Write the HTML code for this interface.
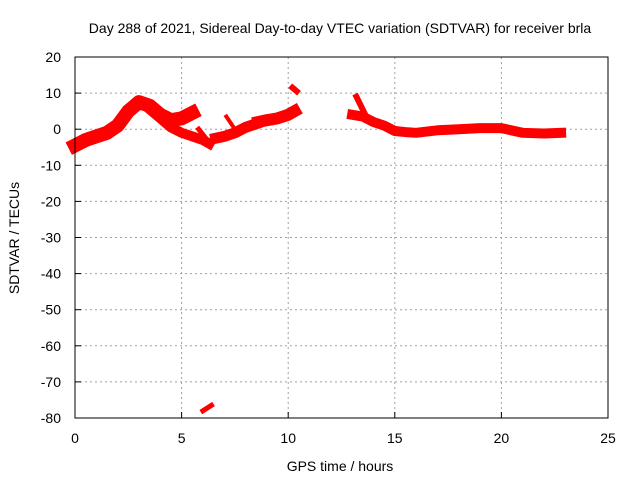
<!DOCTYPE html>
<html><head><meta charset="utf-8"><style>
body{margin:0;background:#fff}
svg text{font-family:"Liberation Sans",sans-serif;font-size:14px;fill:#000}
</style></head><body>
<svg id="chart" width="640" height="480" viewBox="0 0 640 480" xmlns="http://www.w3.org/2000/svg">
<text x="340" y="33" text-anchor="middle">Day 288 of 2021, Sidereal Day-to-day VTEC variation (SDTVAR) for receiver brla</text>
<g id="grid"></g>
<g id="series"></g>
<rect x="75" y="57" width="533" height="361" fill="none" stroke="#000" stroke-width="1"/>
<g id="ticks"></g>
<text x="340" y="471" text-anchor="middle">GPS time / hours</text>
<text transform="translate(19,238) rotate(-90)" text-anchor="middle">SDTVAR / TECUs</text>
</svg>
<script>
const xTicks=[0,5,10,15,20,25];
const yTicks=[20,10,0,-10,-20,-30,-40,-50,-60,-70,-80];
const segMainUpper=[[0,-4.5],[0.5,-3],[1,-2],[1.5,-1],[2,1],[2.5,5],[3,7.5],[3.5,6.5],[4,4],[4.5,2.5],[5,3],[5.5,4.5]];
const segMainLower=[[3.4,6],[4,3],[4.5,0.5],[5,-1],[5.5,-2],[6,-3],[6.3,-4]];
const segSpike1=[[5.8,0],[6.2,-3]];
const segMid=[[6.6,-2.5],[7,-2],[7.5,-1],[8,0.5],[8.5,1.5]];
const segSpike2=[[7.1,3.5],[7.5,0]];
const segLate=[[8.6,2],[9,2.5],[9.5,3],[10,4],[10.3,5]];
const segBlob=[[10.2,11.5],[10.4,10.5]];
const segOutlier=[[6,-78],[6.4,-76.5]];
const segRight=[[13,4],[13.5,3.5],[14,2],[14.5,1],[15,-0.5],[15.5,-0.8],[16,-1],[17,-0.3],[18,0],[19,0.3],[20,0.3],[21,-1],[22,-1.2],[22.8,-1]];
const segSpike3=[[13.2,9],[13.7,3]];
const series=[[segMainUpper,14],[segMainLower,10],[segSpike1,5],[segMid,11],[segSpike2,4],[segLate,12],[segBlob,6],[segOutlier,5],[segRight,10],[segSpike3,6]];
const X=t=>75+t*533/25;
const Y=v=>57+(20-v)*361/100;
const NS="http://www.w3.org/2000/svg";
const grid=document.getElementById('grid'),ticks=document.getElementById('ticks'),sg=document.getElementById('series');
function mk(tag,attrs,parent){const e=document.createElementNS(NS,tag);for(const k in attrs)e.setAttribute(k,attrs[k]);parent.appendChild(e);return e;}
xTicks.forEach(t=>{
 if(t>0&&t<25){const g=mk('line',{x1:X(t),x2:X(t),y1:57,y2:418,stroke:'#a0a0a0','stroke-dasharray':'2,3'},grid);
 
 }
 const l=mk('line',{x1:X(t),x2:X(t),y1:418,y2:412,stroke:'#000'},ticks);
 
 
 const tx=mk('text',{x:X(t),y:443,'text-anchor':'middle'},ticks);tx.textContent=t;
 
 
});
yTicks.forEach(v=>{
 if(v<20&&v>-80){const g=mk('line',{x1:75,x2:608,y1:Y(v),y2:Y(v),stroke:'#a0a0a0','stroke-dasharray':'2,3'},grid);
 
 }
 const l=mk('line',{x1:75,x2:81,y1:Y(v),y2:Y(v),stroke:'#000'},ticks);
 
 
 const tx=mk('text',{x:61,y:Y(v)+5,'text-anchor':'end'},ticks);tx.textContent=v;
 
 
});
series.forEach(([pts,w])=>{
 const p=mk('polyline',{points:pts.map(d=>X(d[0])+','+Y(d[1])).join(' '),fill:'none',stroke:'#ff0000','stroke-width':w,'stroke-linejoin':'round','stroke-linecap':'square'},sg);
 
 
});
</script>
</body></html>
